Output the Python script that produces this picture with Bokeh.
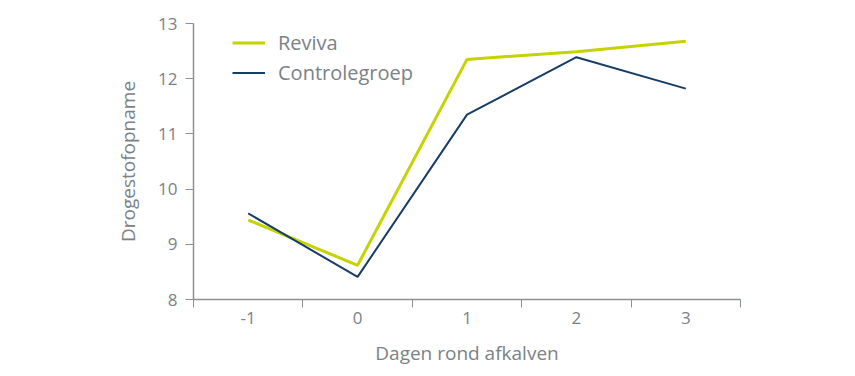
from bokeh.plotting import figure
from bokeh.models import FixedTicker, Range1d, Legend, LegendItem
from bokeh.embed import file_html
from bokeh.resources import INLINE

days = [-1, 0, 1, 2, 3]
day_labels = ["-1", "0", "1", "2", "3"]
reviva = [9.44, 8.62, 12.35, 12.49, 12.68]
controle = [9.56, 8.41, 11.35, 12.39, 11.82]
y_ticks = [8, 9, 10, 11, 12, 13]

AX = "#8a9196"
TXT = "#7a8287"
FONT = "Open Sans"

p = figure(width=847, height=372, output_backend="svg", toolbar_location=None,
           x_range=Range1d(-1.5, 3.5), y_range=Range1d(8, 13),
           min_border_left=193, min_border_right=107, min_border_top=23, min_border_bottom=73)
p.outline_line_color = None
p.grid.visible = False
p.background_fill_color = "white"
p.border_fill_color = "white"

r1 = p.line(days, reviva, line_color="#c5d300", line_width=3)
r2 = p.line(days, controle, line_color="#173d66", line_width=2)

bounds = [d - 0.5 for d in days] + [days[-1] + 0.5]
xa = p.xaxis[0]
xa.ticker = FixedTicker(ticks=days, minor_ticks=bounds)
xa.major_label_overrides = {d: l for d, l in zip(days, day_labels)}
xa.major_tick_out = 0
xa.major_tick_in = 0
xa.minor_tick_out = 8
xa.minor_tick_in = 0
xa.minor_tick_line_color = AX
xa.axis_line_color = AX
xa.axis_line_width = 1.5
xa.major_label_standoff = 4
xa.major_label_text_font = FONT
xa.major_label_text_font_size = "17px"
xa.major_label_text_color = TXT
xa.axis_label = "Dagen rond afkalven"
xa.axis_label_text_font = FONT
xa.axis_label_text_font_size = "19px"
xa.axis_label_text_font_style = "normal"
xa.axis_label_text_color = TXT
xa.axis_label_standoff = 13

ya = p.yaxis[0]
ya.ticker = FixedTicker(ticks=y_ticks, minor_ticks=[])
ya.major_tick_out = 8
ya.major_tick_in = 0
ya.major_tick_line_color = AX
ya.axis_line_color = AX
ya.axis_line_width = 1.5
ya.major_label_standoff = 8
ya.major_label_text_font = FONT
ya.major_label_text_font_size = "17px"
ya.major_label_text_color = TXT
ya.axis_label = "Drogestofopname"
ya.axis_label_text_font = FONT
ya.axis_label_text_font_size = "19px"
ya.axis_label_text_font_style = "normal"
ya.axis_label_text_color = TXT
ya.axis_label_standoff = 14

legend = Legend(items=[LegendItem(label="Reviva", renderers=[r1]),
                       LegendItem(label="Controlegroep", renderers=[r2])],
                location=(39, 213), margin=0, padding=0, spacing=3,
                glyph_width=33, glyph_height=27, label_height=27, label_standoff=13,
                label_text_font=FONT, label_text_font_size="20px", label_text_color=TXT,
                border_line_color=None, background_fill_alpha=0)
p.add_layout(legend)

open("out.html", "w").write(file_html(p, INLINE))
